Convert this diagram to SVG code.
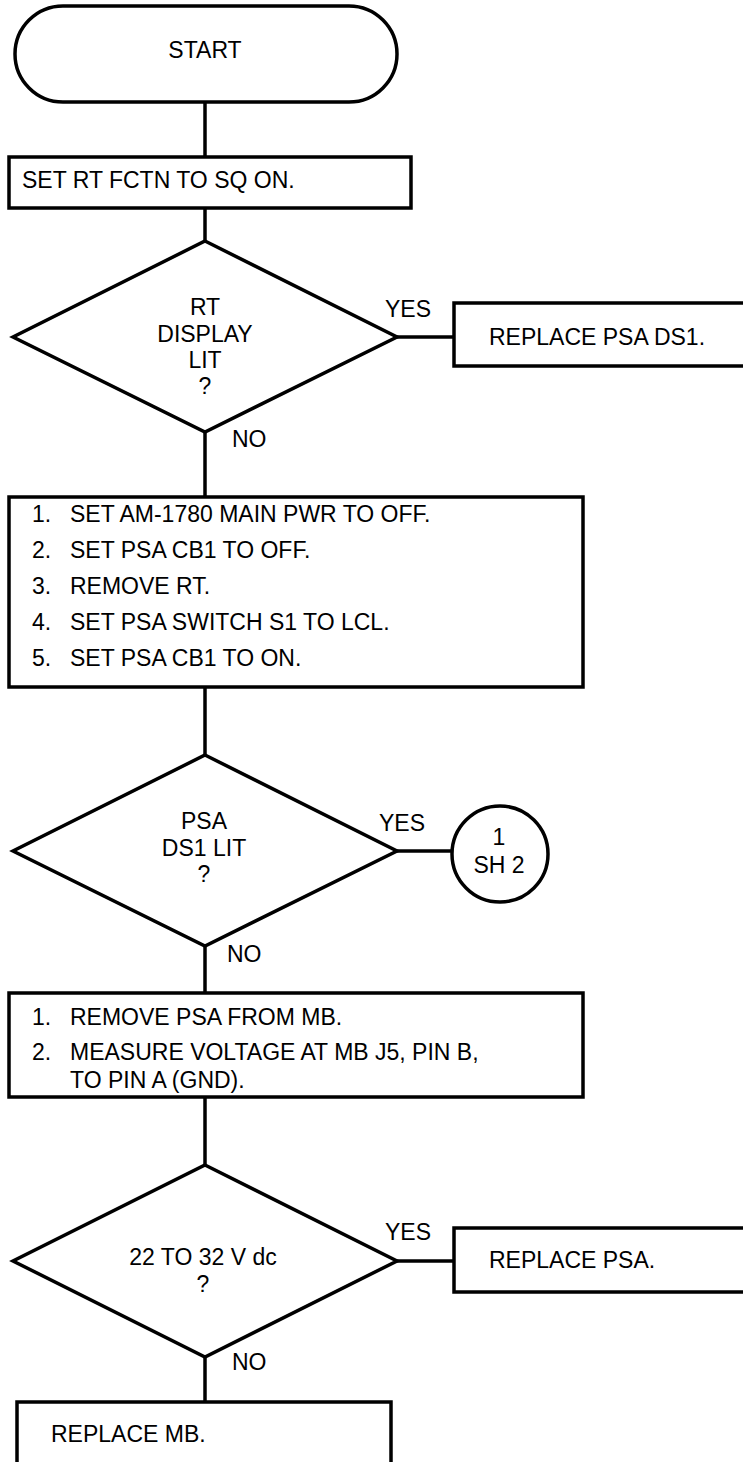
<svg xmlns="http://www.w3.org/2000/svg" width="743" height="1462" viewBox="0 0 743 1462">
  <style>
    .shape { fill: #ffffff; stroke: #000000; stroke-width: 3.5; }
    .wire { fill: none; stroke: #000000; stroke-width: 3.5; }
    text { font-family: "Liberation Sans", Arial, Helvetica, sans-serif; font-size: 23px; fill: #000000; }
    .mid { text-anchor: middle; }
  </style>
  <rect width="743" height="1462" fill="#ffffff"/>

  <!-- connectors -->
  <g id="connectors">
    <line class="wire" x1="205" y1="102" x2="205" y2="157"/>
    <line class="wire" x1="205" y1="208" x2="205" y2="241"/>
    <line class="wire" x1="397" y1="337" x2="454" y2="337"/>
    <line class="wire" x1="205" y1="432" x2="205" y2="497"/>
    <line class="wire" x1="205" y1="687" x2="205" y2="755"/>
    <line class="wire" x1="397" y1="851" x2="452" y2="851"/>
    <line class="wire" x1="205" y1="946" x2="205" y2="993"/>
    <line class="wire" x1="205" y1="1097" x2="205" y2="1165"/>
    <line class="wire" x1="397" y1="1261" x2="454" y2="1261"/>
    <line class="wire" x1="205" y1="1357" x2="205" y2="1402"/>
    <text x="385" y="317">YES</text>
    <text x="232" y="447">NO</text>
    <text x="379" y="831">YES</text>
    <text x="227" y="962">NO</text>
    <text x="385" y="1240">YES</text>
    <text x="232" y="1370">NO</text>
  </g>

  <!-- terminal -->
  <g id="start">
    <rect class="shape" x="15" y="6" width="382" height="96" rx="48" ry="48"/>
    <text class="mid" x="205" y="58">START</text>
  </g>

  <g id="set-rt-fctn">
    <rect class="shape" x="9" y="157" width="402" height="51"/>
    <text x="22" y="188">SET RT FCTN TO SQ ON.</text>
  </g>

  <g id="rt-display-lit">
    <polygon class="shape" points="205,241 397,337 205,432 13,337"/>
    <text class="mid" x="205" y="315">RT</text>
    <text class="mid" x="205" y="342">DISPLAY</text>
    <text class="mid" x="205" y="368">LIT</text>
    <text class="mid" x="205" y="394">?</text>
  </g>

  <g id="replace-psa-ds1">
    <rect class="shape" x="454" y="303" width="300" height="63"/>
    <text x="489" y="345">REPLACE PSA DS1.</text>
  </g>

  <g id="power-down-steps">
    <rect class="shape" x="9" y="497" width="574" height="190"/>
    <text x="32" y="522">1.</text>
    <text x="70" y="522">SET AM-1780 MAIN PWR TO OFF.</text>
    <text x="32" y="558">2.</text>
    <text x="70" y="558">SET PSA CB1 TO OFF.</text>
    <text x="32" y="594">3.</text>
    <text x="70" y="594">REMOVE RT.</text>
    <text x="32" y="630">4.</text>
    <text x="70" y="630">SET PSA SWITCH S1 TO LCL.</text>
    <text x="32" y="666">5.</text>
    <text x="70" y="666">SET PSA CB1 TO ON.</text>
  </g>

  <g id="psa-ds1-lit">
    <polygon class="shape" points="205,755 397,851 205,946 13,851"/>
    <text class="mid" x="204" y="829">PSA</text>
    <text class="mid" x="204" y="856">DS1 LIT</text>
    <text class="mid" x="204" y="882">?</text>
  </g>

  <!-- off-page connector -->
  <g id="sheet-2-link">
    <circle class="shape" cx="500" cy="854" r="48"/>
    <text class="mid" x="499" y="845">1</text>
    <text class="mid" x="499" y="873">SH 2</text>
  </g>

  <g id="measure-voltage-steps">
    <rect class="shape" x="9" y="993" width="574" height="104"/>
    <text x="32" y="1025">1.</text>
    <text x="70" y="1025">REMOVE PSA FROM MB.</text>
    <text x="32" y="1060">2.</text>
    <text x="70" y="1060">MEASURE VOLTAGE AT MB J5, PIN B,</text>
    <text x="70" y="1088">TO PIN A (GND).</text>
  </g>

  <g id="voltage-in-range">
    <polygon class="shape" points="205,1165 397,1261 205,1357 13,1261"/>
    <text class="mid" x="203" y="1265">22 TO 32 V dc</text>
    <text class="mid" x="203" y="1292">?</text>
  </g>

  <g id="replace-psa">
    <rect class="shape" x="454" y="1228" width="300" height="64"/>
    <text x="489" y="1268">REPLACE PSA.</text>
  </g>

  <g id="replace-mb">
    <rect class="shape" x="17" y="1402" width="374" height="80"/>
    <text x="51" y="1442">REPLACE MB.</text>
  </g>
</svg>
